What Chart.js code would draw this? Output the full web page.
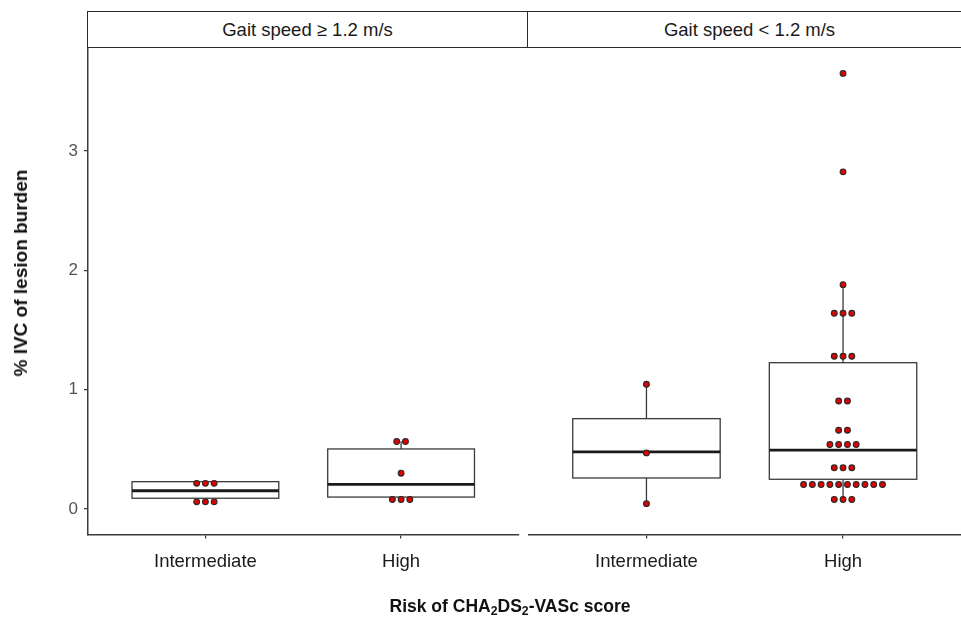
<!DOCTYPE html>
<html>
<head>
<meta charset="utf-8">
<script src="https://cdn.jsdelivr.net/npm/chart.js@4.4.1/dist/chart.umd.min.js"></script>
<style>
  body { margin: 0; background: #fff; }
  #wrap { position: relative; width: 961px; height: 617px; overflow: hidden; background: #fff;
          font-family: "Liberation Sans", Arial, sans-serif; }
  canvas { position: absolute; left: 0; top: 0; }
  .strip { position: absolute; top: 11px; height: 37px; box-sizing: border-box; border: 1.6px solid #2a2a2a;
           background: #fff; font-size: 18.5px; color: #1a1a1a; display: flex; align-items: center;
           justify-content: center; white-space: nowrap; }
  #ytitle { position: absolute; left: 21px; top: 273px; transform: translate(-50%, -50%) rotate(-90deg);
            font-weight: bold; font-size: 19px; color: #111; white-space: nowrap; }
  #xtitle { position: absolute; left: 510px; top: 606px; transform: translate(-50%, -50%);
            font-weight: bold; font-size: 17.5px; color: #111; white-space: nowrap; }
  #xtitle sub { font-size: 0.7em; vertical-align: -0.25em; line-height: 0; }
</style>
</head>
<body>
<div id="wrap">
  <div class="strip" id="strip0" style="left:87px; width:441px;"></div>
  <div class="strip" id="strip1" style="left:527px; width:445px;"></div>
  <canvas id="left" width="961" height="617"></canvas>
  <canvas id="right" width="961" height="617"></canvas>
  <div id="ytitle">% IVC of lesion burden</div>
  <div id="xtitle">Risk of CHA<sub>2</sub>DS<sub>2</sub>-VASc score</div>
</div>
<script>
const facets = ['Gait speed \u2265 1.2 m/s', 'Gait speed < 1.2 m/s'];
const categories = ['Intermediate', 'High'];
const yTicks = [0, 1, 2, 3];

// individual % IVC values (dots), per gait speed facet and risk group
const fastIntermediate = [0.06, 0.06, 0.06, 0.215, 0.215, 0.215];
const fastHigh = [0.08, 0.08, 0.08, 0.30, 0.565, 0.565];
const slowIntermediate = [0.045, 0.47, 1.045];
const slowHigh = [0.08, 0.08, 0.08,
  0.205, 0.205, 0.205, 0.205, 0.205, 0.205, 0.205, 0.205, 0.205, 0.205,
  0.345, 0.345, 0.345, 0.54, 0.54, 0.54, 0.54, 0.66, 0.66, 0.905, 0.905,
  1.28, 1.28, 1.28, 1.64, 1.64, 1.64, 1.88, 2.825, 3.65];

// box stats: [lower whisker, q1, median, q3, upper whisker]
const fastIntermediateBox = [0.09, 0.09, 0.153, 0.229, 0.229];
const fastHighBox = [0.10, 0.10, 0.207, 0.503, 0.567];
const slowIntermediateBox = [0.045, 0.26, 0.478, 0.757, 1.047];
const slowHighBox = [0.06, 0.249, 0.494, 1.226, 1.883];

const Y_MIN = -0.2137, Y_MAX = 3.867;
const BOX_WIDTH = 0.75;
const DOT_STEP = 0.0446;

Chart.defaults.font.family = '"Liberation Sans", Arial, sans-serif';

document.getElementById('strip0').textContent = facets[0];
document.getElementById('strip1').textContent = facets[1];

// dotplot-style stacking: equal values sit side by side around the category centre
function dots(values, pos) {
  const counts = new Map();
  values.forEach(v => counts.set(v, (counts.get(v) || 0) + 1));
  const pts = [];
  counts.forEach((n, v) => {
    for (let i = 0; i < n; i++) pts.push({ x: pos + (i - (n - 1) / 2) * DOT_STEP, y: v });
  });
  return pts;
}

function boxPlugin(boxes) {
  return {
    id: 'boxes',
    beforeDatasetsDraw(chart) {
      const { ctx, scales: { x, y } } = chart;
      ctx.save();
      boxes.forEach((b, i) => {
        const pos = i + 1;
        const [lo, q1, med, q3, hi] = b;
        const xl = x.getPixelForValue(pos - BOX_WIDTH / 2);
        const xr = x.getPixelForValue(pos + BOX_WIDTH / 2);
        const xc = x.getPixelForValue(pos);
        ctx.strokeStyle = '#3a3a3a';
        ctx.lineWidth = 1.3;
        ctx.beginPath();
        ctx.moveTo(xc, y.getPixelForValue(lo)); ctx.lineTo(xc, y.getPixelForValue(q1));
        ctx.moveTo(xc, y.getPixelForValue(q3)); ctx.lineTo(xc, y.getPixelForValue(hi));
        ctx.stroke();
        ctx.strokeRect(xl, y.getPixelForValue(q3), xr - xl, y.getPixelForValue(q1) - y.getPixelForValue(q3));
        ctx.strokeStyle = '#1a1a1a';
        ctx.lineWidth = 2.8;
        ctx.beginPath();
        ctx.moveTo(xl, y.getPixelForValue(med)); ctx.lineTo(xr, y.getPixelForValue(med));
        ctx.stroke();
      });
      ctx.restore();
    }
  };
}

function makeChart(id, groups, boxes, isLeft) {
  return new Chart(document.getElementById(id), {
    type: 'scatter',
    data: {
      datasets: groups.map((g, i) => ({
        data: dots(g, i + 1),
        pointRadius: 2.9,
        pointBackgroundColor: '#e00000',
        pointBorderColor: '#2a2a2a',
        pointBorderWidth: 1.1
      }))
    },
    options: {
      responsive: false,
      animation: false,
      events: [],
      layout: {
        autoPadding: false,
        padding: isLeft ? { left: 0, right: 442.5, top: 47.5, bottom: 0 }
                        : { left: 528.5, right: 0, top: 47.5, bottom: 0 }
      },
      plugins: { legend: { display: false }, tooltip: { enabled: false } },
      scales: {
        x: {
          min: 0.4, max: 2.6,
          afterBuildTicks: s => { s.ticks = categories.map((c, i) => ({ value: i + 1 })); },
          afterFit: s => { s.height = 82.5; },
          ticks: {
            callback: v => categories[v - 1],
            color: '#1a1a1a', font: { size: 18.5 }, padding: 12,
            maxRotation: 0, autoSkip: false
          },
          grid: { display: true, drawOnChartArea: false, drawTicks: true, tickLength: 4,
                  color: '#3a3a3a', lineWidth: 1.2 },
          border: { display: true, color: '#3a3a3a', width: 1.5 }
        },
        y: {
          display: isLeft,
          min: Y_MIN, max: Y_MAX,
          afterBuildTicks: s => { s.ticks = yTicks.map(v => ({ value: v })); },
          afterFit: s => { s.width = isLeft ? 88 : 0; },
          ticks: { color: '#555', font: { size: 17 }, padding: 6, callback: v => String(v) },
          grid: { display: true, drawOnChartArea: false, drawTicks: true, tickLength: 4,
                  color: '#3a3a3a', lineWidth: 1.2 },
          border: { display: true, color: '#3a3a3a', width: 1.5 }
        }
      }
    },
    plugins: [boxPlugin(boxes)]
  });
}

makeChart('left', [fastIntermediate, fastHigh], [fastIntermediateBox, fastHighBox], true);
makeChart('right', [slowIntermediate, slowHigh], [slowIntermediateBox, slowHighBox], false);
</script>
</body>
</html>
